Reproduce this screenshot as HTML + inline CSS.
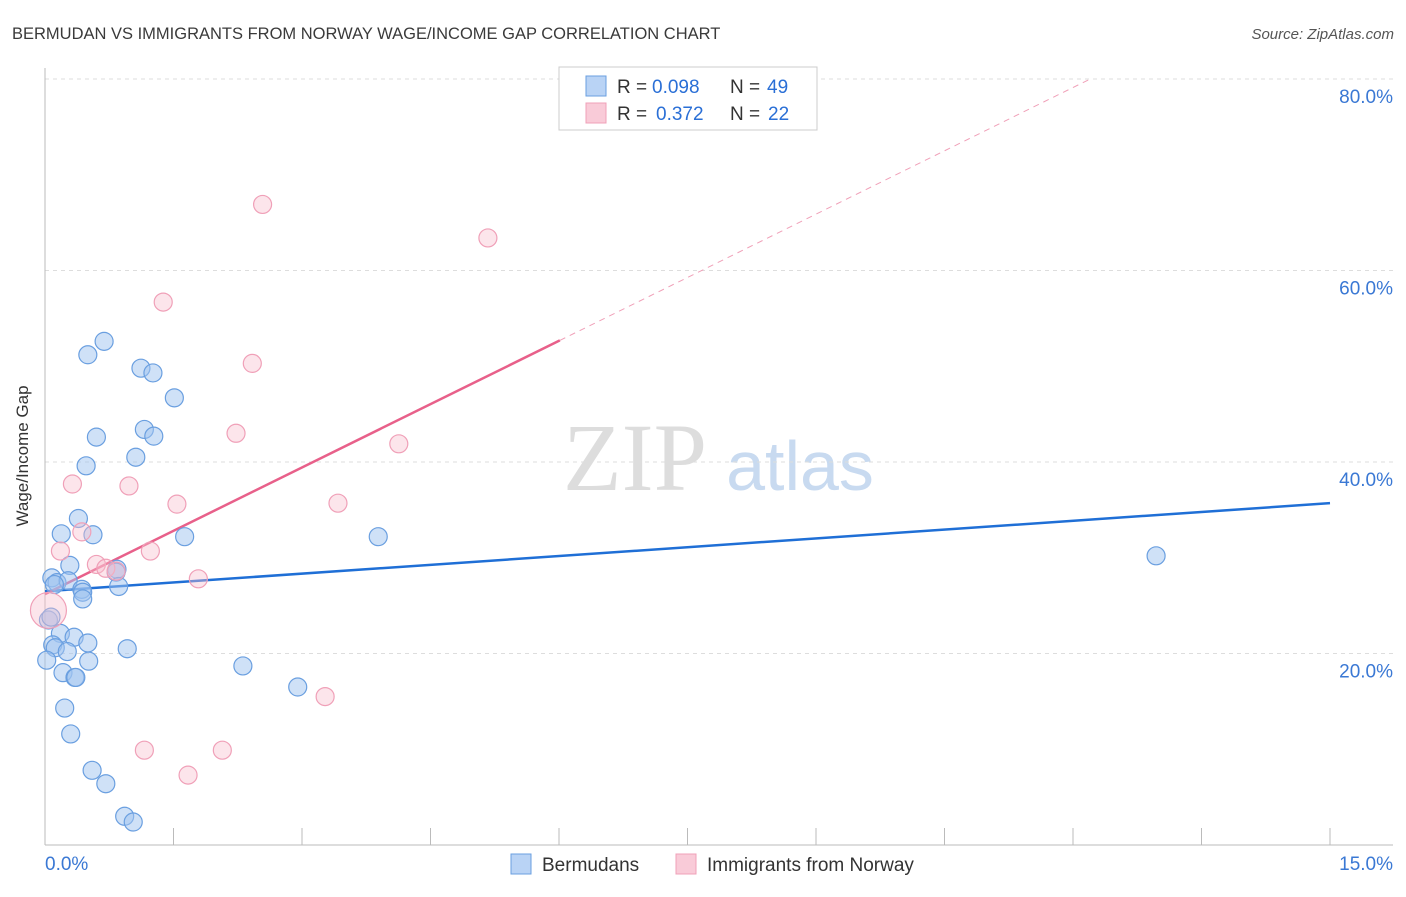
<!DOCTYPE html>
<html><head><meta charset="utf-8"><style>
body{margin:0;background:#fff;font-family:"Liberation Sans",sans-serif}
</style></head><body>
<svg width="1406" height="892" xmlns="http://www.w3.org/2000/svg">
<text x="12" y="39" font-size="16.5" fill="#3a3a3a">BERMUDAN VS IMMIGRANTS FROM NORWAY WAGE/INCOME GAP CORRELATION CHART</text>
<text x="1394" y="39" font-size="15" fill="#555" text-anchor="end" font-style="italic">Source: ZipAtlas.com</text>
<text x="28" y="456" font-size="17" fill="#333" text-anchor="middle" transform="rotate(-90 28 456)">Wage/Income Gap</text>
<g>
<text x="635" y="490" font-size="96" fill="#ddd" text-anchor="middle" font-family="Liberation Serif,serif">ZIP</text>
<text x="800" y="490" font-size="70" fill="#c8daf0" text-anchor="middle">atlas</text>
</g>
<g id="grid"></g><g id="axes"></g><g id="lines"></g><g id="pts"></g>
<g>
<rect x="559" y="67" width="258" height="63" fill="#fff" stroke="#ccc"/>
<rect x="586" y="76" width="20" height="20" fill="#b9d3f5" stroke="#6a9fe0"/>
<text x="617" y="93" font-size="19" fill="#333">R =</text>
<text x="652" y="93" font-size="19" fill="#2a6fd6">0.098</text>
<text x="730" y="93" font-size="19" fill="#333">N =</text>
<text x="767" y="93" font-size="19" fill="#2a6fd6">49</text>
<rect x="586" y="103" width="20" height="20" fill="#f9cbd8" stroke="#f0a0b8"/>
<text x="617" y="120" font-size="19" fill="#333">R =</text>
<text x="656" y="120" font-size="19" fill="#2a6fd6">0.372</text>
<text x="730" y="120" font-size="19" fill="#333">N =</text>
<text x="768" y="120" font-size="19" fill="#2a6fd6">22</text>
</g>
<g>
<rect x="511" y="854" width="20" height="20" fill="#b9d3f5" stroke="#6a9fe0"/>
<text x="542" y="871" font-size="19" fill="#333">Bermudans</text>
<rect x="676" y="854" width="20" height="20" fill="#f9cbd8" stroke="#f0a0b8"/>
<text x="707" y="871" font-size="19" fill="#333">Immigrants from Norway</text>
</g>
</svg>
<script>
const blueX=[.69,.50,1.12,1.26,1.51,1.16,1.27,.60,1.06,.48,.39,.19,.56,1.63,3.89,12.97,.08,.14,.29,.27,.43,.44,.44,.84,.83,.86,.04,.07,.18,.34,.09,.12,.26,.50,.51,.02,.96,2.31,.21,.35,.36,2.95,.23,.30,.55,.71,.93,1.03,.11];
const blueY=[52.6,51.2,49.8,49.3,46.7,43.4,42.7,42.6,40.5,39.6,34.1,32.5,32.4,32.2,32.2,30.2,27.9,27.4,29.2,27.6,26.7,26.4,25.7,28.8,28.5,27.0,23.5,23.8,22.1,21.7,20.9,20.6,20.2,21.1,19.2,19.3,20.5,18.7,18.0,17.5,17.5,16.5,14.3,11.6,7.8,6.4,3.0,2.4,27.2];
const pinkX=[2.54,5.17,1.38,2.42,2.23,4.13,.32,.98,1.54,3.42,.43,.18,1.23,.60,.71,.83,1.79,.04,3.27,1.16,2.07,1.67];
const pinkY=[66.9,63.4,56.7,50.3,43.0,41.9,37.7,37.5,35.6,35.7,32.7,30.7,30.7,29.3,28.9,28.6,27.8,24.5,15.5,9.9,9.9,7.3];
const yTicks=[20,40,60,80];
const xTickLabels=["0.0%","15.0%"];
const blueTrend=[26.5,35.7];
const pinkTrend=[26.2,52.7];
const pinkTrendEndX=6.01;
const NS="http://www.w3.org/2000/svg";
const sx=v=>45+v/15*1285, sy=v=>845-v/20*191.5;
function mk(t,a,p){const e=document.createElementNS(NS,t);for(const k in a)e.setAttribute(k,a[k]);document.getElementById(p).appendChild(e);return e;}
yTicks.forEach(t=>{
 const l=mk('line',{x1:45,x2:1393,y1:sy(t),y2:sy(t),stroke:'#ddd','stroke-dasharray':'4,4'},'grid');
 
 
 const tx=mk('text',{x:1393,y:sy(t)+24,'font-size':19,fill:'#3a78d4','text-anchor':'end'},'grid');
 tx.textContent=t.toFixed(1)+'%';
 
 
});
let a=mk('line',{x1:45,x2:45,y1:68,y2:845,stroke:'#bbb'},'axes');


a=mk('line',{x1:45,x2:1393,y1:845,y2:845,stroke:'#bbb'},'axes');


for(let i=0;i<=10;i++){const x=sx(i*1.5);const t=mk('line',{x1:x,x2:x,y1:828,y2:845,stroke:'#bbb'},'axes');
 
 }
[[0,'start'],[15,'end']].forEach((p,i)=>{const t=mk('text',{x:i?1393:45,y:870,'font-size':19,fill:'#3a78d4','text-anchor':p[1]},'axes');t.textContent=xTickLabels[i];
 
 });
function pts(X,Y,fill,st,name){X.forEach((x,i)=>{const r=(name==='pink-point'&&i===17)?18:9;const c=mk('circle',{cx:sx(x),cy:sy(Y[i]),r:r,fill:fill,stroke:st,'stroke-width':1.2},'pts');
 
 });}
pts(blueX,blueY,'rgba(160,196,240,0.5)','#6a9fe0','blue-point');
pts(pinkX,pinkY,'rgba(248,190,205,0.4)','#f0a0b8','pink-point');
let ln=mk('line',{x1:sx(0),y1:sy(blueTrend[0]),x2:sx(15),y2:sy(blueTrend[1]),stroke:'#1f6fd6','stroke-width':2.5},'lines');


const slope=(pinkTrend[1]-pinkTrend[0])/pinkTrendEndX;
ln=mk('line',{x1:sx(0),y1:sy(pinkTrend[0]),x2:sx(pinkTrendEndX),y2:sy(pinkTrend[1]),stroke:'#e8608a','stroke-width':2.5},'lines');


const xe=(80-pinkTrend[0])/slope;
ln=mk('line',{x1:sx(pinkTrendEndX),y1:sy(pinkTrend[1]),x2:sx(xe),y2:sy(80),stroke:'#f0a0b8','stroke-width':1,'stroke-dasharray':'6,5'},'lines');


</script>
</body></html>
